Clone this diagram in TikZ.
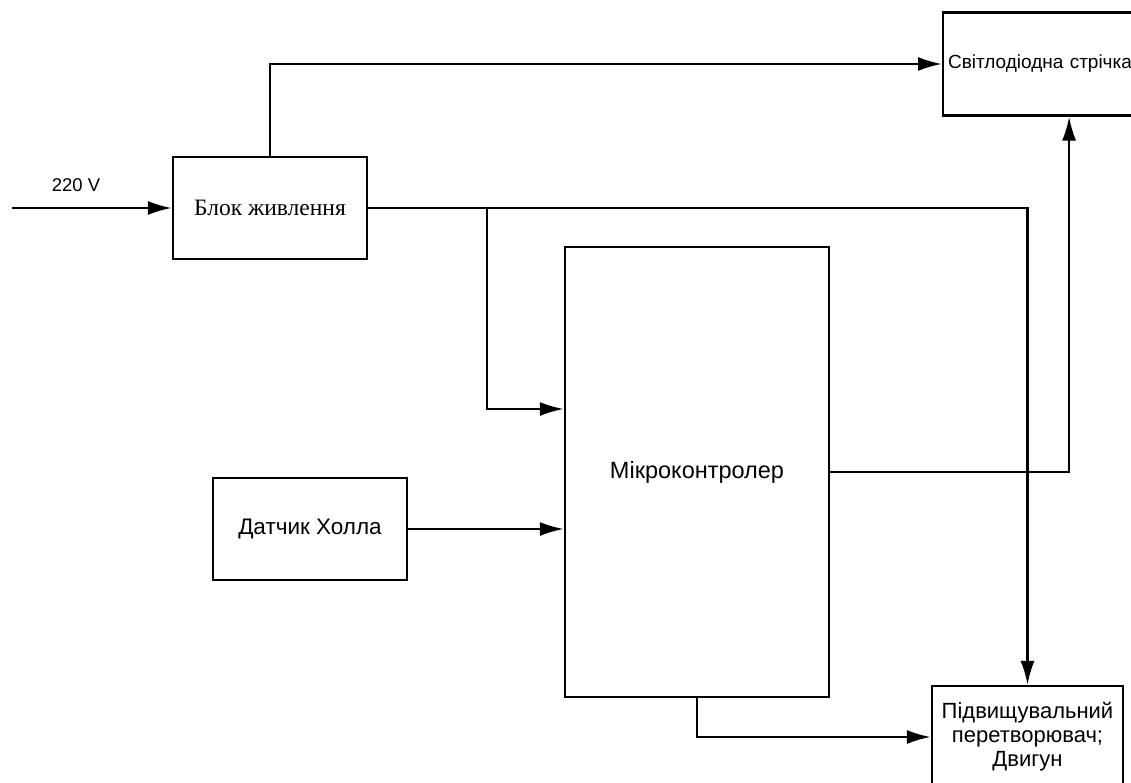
\documentclass[tikz,border=0pt]{standalone}
\usepackage{fontspec}
\setmainfont{Liberation Sans}
\newfontfamily\timesfont{Liberation Serif}
\usetikzlibrary{arrows.meta}

\begin{document}
\begin{tikzpicture}[x=1pt,y=-1pt,>={Latex[length=24pt,width=14pt]},
		block/.style={draw,line width=2.2pt,inner sep=0pt,minimum width=194pt,minimum height=102pt},
		link/.style={line width=2.5pt}]
		\useasboundingbox (0,0) rectangle (1131,783);
		\clip (0,0) rectangle (1131,783);
		%blocks
		\node [block, font=\timesfont\fontsize{23.5}{27}\selectfont] (psu) at (270,208) {Блок живлення};
		\node [block, anchor=west, minimum height=103pt, inner xsep=5pt, text width=220pt, align=left,
			font=\fontsize{19}{23}\selectfont] (led) at (942,64) {Світлодіодна стрічка};
		\node [block, minimum width=264pt, minimum height=450pt, font=\fontsize{23.5}{27}\selectfont] (mcu) at (697,472) {Мікроконтролер};
		\node [block, font=\fontsize{22.5}{26}\selectfont] (hall) at (310,529) {Датчик Холла};
		\node [block, minimum width=191pt, align=center, font=\fontsize{22}{24}\selectfont] (boost) at (1027.5,737)
			{Підвищувальний\\ перетворювач;\\ Двигун};
		%input
		\coordinate (in) at (12,208);
		\draw [link,->] (in) -- (psu.west) node [pos=0.4, above=12pt, font=\fontsize{18.5}{22}\selectfont] (volt) {220 V};
		%power
		\draw [link,->] (psu.north) |- (led.west);
		\draw [link,->] (psu.east) -| (boost.north);
		\path (psu.east) ++(119,0) coordinate (tap);
		\draw [link,->] (tap) |- ([yshift=63pt]mcu.west);
		%signals
		\draw [link,->] (hall.east) -- (hall.east -| mcu.west);
		\draw [link,->] (mcu.east) -| ([xshift=11pt]led.south);
		\draw [link,->] (mcu.south) |- (boost.west);
	\end{tikzpicture}
\end{document}
